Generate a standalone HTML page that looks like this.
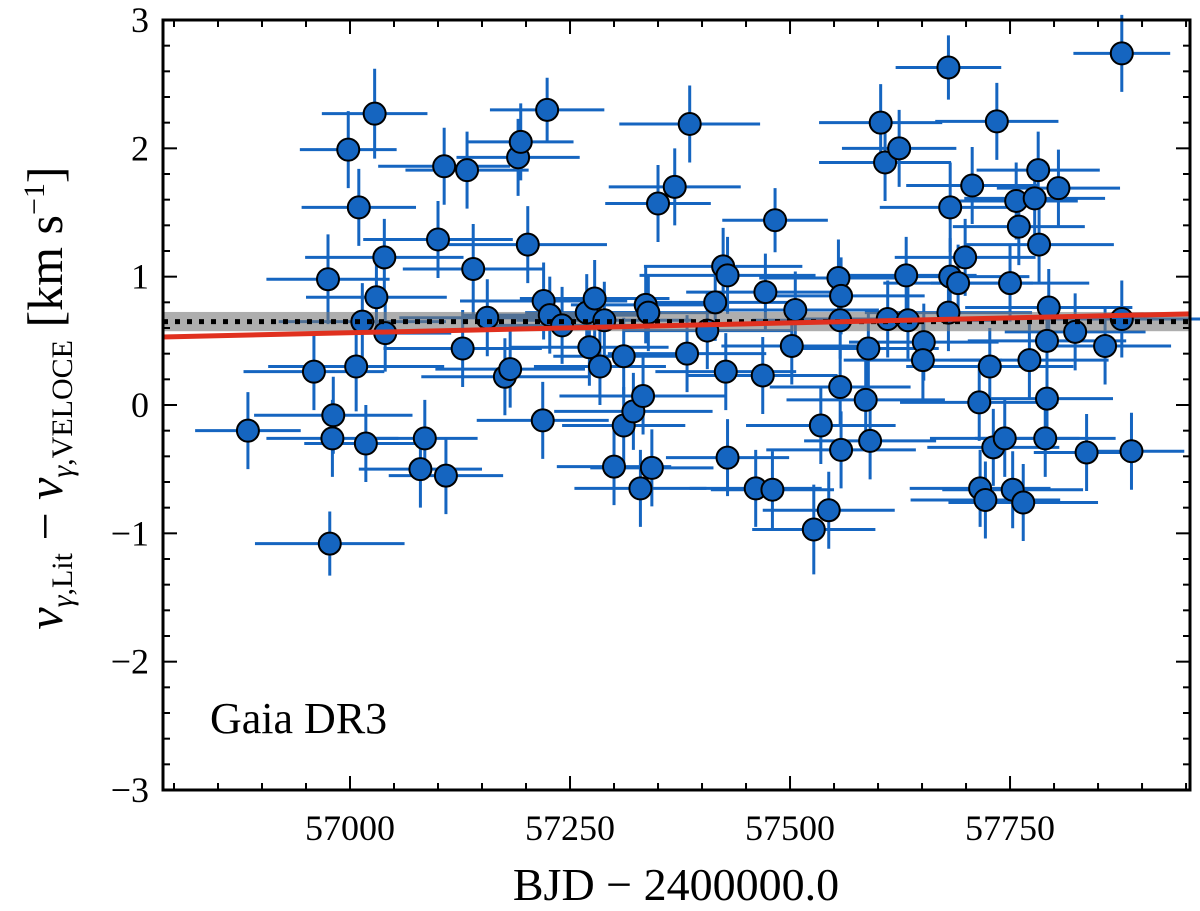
<!DOCTYPE html>
<html><head><meta charset="utf-8">
<style>
html,body{margin:0;padding:0;background:#fff;}
svg{display:block;font-family:"Liberation Serif",serif;}
</style></head>
<body>
<svg id="chart" width="1200" height="911" viewBox="0 0 1200 911" xmlns="http://www.w3.org/2000/svg">
<g id="errs"></g>
<g id="band"></g>
<g id="pts"></g>
<g id="axes"></g>
<text x="210" y="733" font-size="44">Gaia DR3</text>
<text x="676" y="900" font-size="46" text-anchor="middle">BJD  −  2400000.0</text>
<text transform="translate(62,398) rotate(-90)" font-size="50" text-anchor="middle"><tspan font-style="italic">v</tspan><tspan font-size="30" dy="10"><tspan font-style="italic">γ</tspan>,Lit</tspan><tspan dy="-10"> − </tspan><tspan font-style="italic">v</tspan><tspan font-size="30" dy="10"><tspan font-style="italic">γ</tspan>,VELOCE</tspan><tspan dy="-10"> [km s</tspan><tspan font-size="30" dy="-18">−1</tspan><tspan dy="18">]</tspan></text>
</svg>
<script>
const dates=[56884,56959,56975,56981,56980,56977,56998,57007,57010,57014,57018,57028,57030,57039,57040,57080,57085,57100,57107,57109,57128,57133,57140,57156,57176,57182,57191,57194,57202,57219,57220,57224,57227,57241,57269,57272,57278,57284,57289,57300,57311,57311,57322,57330,57333,57336,57339,57343,57350,57369,57383,57386,57406,57415,57424,57429,57427,57429,57461,57469,57472,57480,57483,57502,57506,57527,57535,57544,57555,57557,57558,57557,57558,57586,57589,57591,57603,57608,57611,57624,57632,57634,57652,57651,57680,57682,57680,57682,57691,57699,57707,57715,57716,57722,57727,57731,57735,57744,57750,57753,57757,57760,57765,57772,57778,57782,57783,57790,57792,57792,57794,57805,57824,57837,57858,57877,57877,57888];
const offsets=[-0.20,0.26,0.98,-0.08,-0.26,-1.08,1.99,0.30,1.54,0.65,-0.30,2.27,0.84,1.15,0.56,-0.50,-0.26,1.29,1.86,-0.55,0.44,1.83,1.06,0.68,0.22,0.28,1.93,2.05,1.25,-0.12,0.81,2.30,0.70,0.62,0.72,0.45,0.83,0.30,0.66,-0.48,0.38,-0.16,-0.05,-0.65,0.07,0.78,0.72,-0.49,1.57,1.70,0.40,2.19,0.58,0.80,1.08,1.01,0.26,-0.41,-0.65,0.23,0.88,-0.66,1.44,0.46,0.74,-0.97,-0.16,-0.82,0.99,0.66,0.85,0.14,-0.35,0.04,0.44,-0.28,2.20,1.89,0.67,2.00,1.01,0.66,0.49,0.35,2.63,1.54,0.72,1.00,0.95,1.15,1.71,0.02,-0.65,-0.74,0.30,-0.33,2.21,-0.26,0.95,-0.66,1.59,1.39,-0.76,0.35,1.61,1.83,1.25,-0.26,0.50,0.05,0.76,1.69,0.57,-0.37,0.46,0.67,2.74,-0.36];
const xErrs=[60,80,70,90,75,85,55,100,65,95,70,60,80,90,75,70,60,85,75,65,90,70,80,100,95,85,70,60,90,75,95,65,100,80,70,90,85,75,100,65,80,70,90,75,95,85,80,70,60,75,90,80,95,85,90,100,80,70,75,85,90,70,60,80,95,70,85,75,90,100,95,80,85,90,80,75,70,75,100,65,80,95,85,90,60,80,95,90,85,80,75,90,80,85,95,75,70,85,90,80,70,75,85,90,80,70,85,80,90,75,95,70,80,60,75,90,55,60];
const yErrs=[0.3,0.3,0.35,0.3,0.3,0.25,0.3,0.35,0.3,0.3,0.3,0.35,0.3,0.3,0.3,0.3,0.3,0.3,0.3,0.3,0.3,0.3,0.35,0.3,0.3,0.3,0.3,0.3,0.3,0.3,0.3,0.25,0.3,0.3,0.3,0.3,0.3,0.3,0.3,0.3,0.3,0.3,0.3,0.3,0.3,0.3,0.3,0.3,0.3,0.3,0.3,0.3,0.3,0.3,0.3,0.3,0.3,0.3,0.3,0.3,0.3,0.3,0.25,0.3,0.3,0.35,0.3,0.3,0.3,0.3,0.3,0.3,0.3,0.3,0.3,0.3,0.3,0.3,0.3,0.3,0.3,0.3,0.3,0.3,0.25,0.35,0.3,0.3,0.3,0.3,0.3,0.3,0.3,0.3,0.3,0.3,0.3,0.3,0.3,0.3,0.3,0.3,0.3,0.3,0.3,0.3,0.3,0.3,0.3,0.3,0.3,0.3,0.3,0.3,0.3,0.3,0.3,0.3];
const xTicks=[57000,57250,57500,57750];
const yTicks=[-3,-2,-1,0,1,2,3];
const meanOffset=0.65, meanErr=0.075;
const fitStart=[56787,0.53], fitEnd=[57955,0.71];

const L=163,R=1190,T=20,B=790,X0=56787.5,X1=57954.5;
const sx=d=>L+(d-X0)/(X1-X0)*(R-L);
const sy=v=>B-(v+3)/6*(B-T);
const NS="http://www.w3.org/2000/svg";
function mk(tag,attrs,parent){const e=document.createElementNS(NS,tag);for(const k in attrs)e.setAttribute(k,attrs[k]);parent.appendChild(e);return e;}
const errs=document.getElementById('errs'),pts=document.getElementById('pts'),band=document.getElementById('band'),axes=document.getElementById('axes');
for(let i=0;i<dates.length;i++){
  const x=sx(dates[i]),y=sy(offsets[i]);
  const h=mk('line',{x1:sx(dates[i]-xErrs[i]),x2:sx(dates[i]+xErrs[i]),y1:y,y2:y,stroke:'#1565c0','stroke-width':3},errs);
  
  
  const v=mk('line',{x1:x,x2:x,y1:sy(offsets[i]-yErrs[i]),y2:sy(offsets[i]+yErrs[i]),stroke:'#1565c0','stroke-width':3},errs);
  
  
  const c=mk('circle',{cx:x,cy:y,r:11,fill:'#1565c0',stroke:'#000','stroke-width':2},pts);
  
  
}
const rb=mk('rect',{x:L,y:sy(meanOffset+meanErr),width:R-L,height:sy(meanOffset-meanErr)-sy(meanOffset+meanErr),fill:'rgba(120,120,120,0.6)'},band);


const ml=mk('line',{x1:L,x2:R,y1:sy(meanOffset),y2:sy(meanOffset),stroke:'#000','stroke-width':5,'stroke-dasharray':'5 7'},pts);


const fl=mk('line',{x1:sx(fitStart[0]),y1:sy(fitStart[1]),x2:sx(fitEnd[0]),y2:sy(fitEnd[1]),stroke:'#e0301e','stroke-width':5},pts);


mk('rect',{x:L,y:T,width:R-L,height:B-T,fill:'none',stroke:'#000','stroke-width':3},axes);
for(let d=56800;d<=X1;d+=50){
  const x=sx(d),maj=xTicks.includes(d),len=maj?14:7;
  mk('line',{x1:x,x2:x,y1:B,y2:B-len,stroke:'#000','stroke-width':2},axes);
  mk('line',{x1:x,x2:x,y1:T,y2:T+len,stroke:'#000','stroke-width':2},axes);
}
xTicks.forEach(d=>{const t=mk('text',{x:sx(d),y:B+50,'font-size':36,'text-anchor':'middle'},axes);t.textContent=d;
  
  });
for(let k=-15;k<=15;k++){
  const v=k/5,y=sy(v),maj=k%5===0,len=maj?14:7;
  mk('line',{x1:L,x2:L+len,y1:y,y2:y,stroke:'#000','stroke-width':2},axes);
  mk('line',{x1:R,x2:R-len,y1:y,y2:y,stroke:'#000','stroke-width':2},axes);
}
yTicks.forEach(v=>{const t=mk('text',{x:L-14,y:sy(v)+12,'font-size':36,'text-anchor':'end'},axes);t.textContent=v<0?'−'+(-v):v;
  
  });
</script>
</body></html>
